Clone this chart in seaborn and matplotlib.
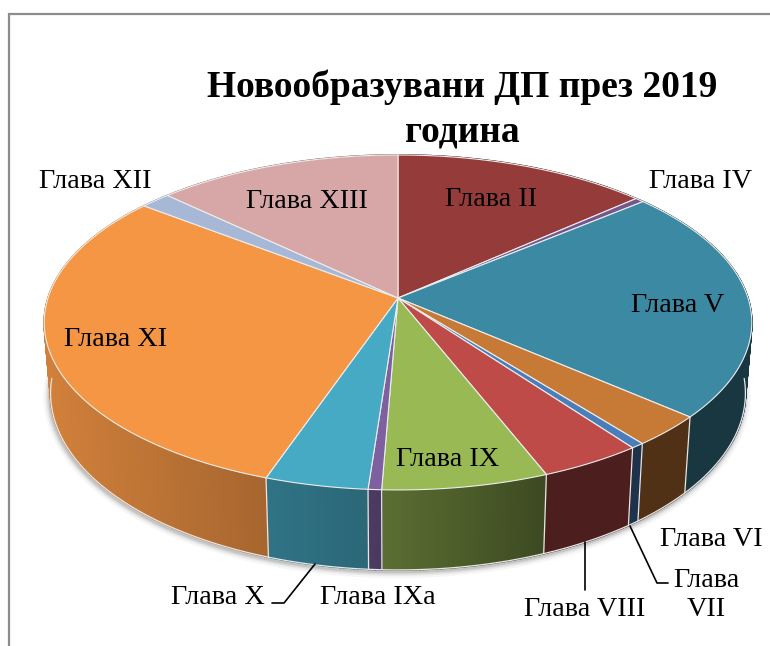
import numpy as np
import matplotlib
matplotlib.use("Agg")
import matplotlib.pyplot as plt
import seaborn as sns

sns.set_theme(style="white")
plt.rcParams['font.family'] = ['Liberation Serif', 'DejaVu Serif']

title = "Новообразувани ДП през 2019\nгодина"
chapters = ["Глава II", "Глава IV", "Глава V", "Глава VI", "Глава VII", "Глава VIII",
            "Глава IX", "Глава IXa", "Глава X", "Глава XI", "Глава XII", "Глава XIII"]
shares = [13.4, 0.47, 22.5, 3.0, 0.53, 4.1, 6.6, 0.53, 4.1, 30.2, 1.6, 12.9]
hexes = ["#953C3A", "#76558F", "#3B89A3", "#C77A36", "#4A7EBB", "#BE4B48",
         "#98B954", "#7D60A0", "#46AAC5", "#F59645", "#A7B7D6", "#D7A7A7"]
palette = sns.color_palette(hexes)

label_pos = {"Глава II": (491, 199), "Глава IV": (701, 182), "Глава V": (678, 305),
             "Глава VI": (711, 539), "Глава VII": (706, 595), "Глава VIII": (585, 609),
             "Глава IX": (448, 460), "Глава IXa": (378, 598), "Глава X": (218, 598),
             "Глава XI": (116, 340), "Глава XII": (95, 182), "Глава XIII": (307, 201)}

CX, CY, K, A, B = 398.0, 298.0, 0.146, 163.9, 350.0


def top_xy(theta):
    u, v = np.sin(theta), np.cos(theta)
    return CX + B * u / (1 + K * v), CY - A * v / (1 + K * v)


def bottom_xy(theta):
    x, y = top_xy(theta)
    return CX + 0.982 * (x - CX), 570 + 1.055 * (y - 490)


def shade(x):
    return np.interp(x, [50, 264, 379, 545, 750], [0.85, 0.68, 0.60, 0.40, 0.40])


fig = plt.figure(figsize=(7.7, 6.46), dpi=100)
ax = fig.add_axes([0, 0, 1, 1])
ax.set_xlim(0, 770)
ax.set_ylim(646, 0)
ax.axis("off")

# frame
ax.plot([9, 9, 770], [646, 14, 14], color="#8C8C8C", lw=1.6, solid_joinstyle="miter", zorder=1)

fracs = np.array(shares) / np.sum(shares)
edges = np.concatenate([[0], np.cumsum(fracs)]) * 2 * np.pi

# shadow along the front of the lower rim only
front = np.linspace(np.pi * 0.52, np.pi * 1.48, 241)
bx, by = bottom_xy(front)
for w, al in [(9, 0.05), (6, 0.07), (4, 0.10), (2, 0.16)]:
    ax.plot(bx - 1, by + 2, color="#555555", lw=w, alpha=al, solid_capstyle="round", zorder=1)

# sides
for i, col in enumerate(palette):
    ts = np.linspace(edges[i], edges[i + 1], max(2, int((edges[i + 1] - edges[i]) * 120)))
    for t0, t1 in zip(ts[:-1], ts[1:]):
        tx, ty = top_xy(np.array([t0, t1]))
        qx, qy = bottom_xy(np.array([t1, t0]))
        fc = tuple(c * shade((tx[0] + tx[1]) / 2) for c in col)
        ax.fill(np.r_[tx, qx], np.r_[ty, qy], facecolor=fc, edgecolor=fc, lw=1.2, zorder=2)

# side outlines
ax.plot(bx, by, color="#E6E6E6", lw=0.9, zorder=3)
for e in edges[:-1]:
    x0, y0 = top_xy(e)
    x1, y1 = bottom_xy(e)
    if y0 > 322:
        ax.plot([x0, x1], [y0, y1], color="#E6E6E6", lw=0.9, zorder=3)

# top faces
for i, col in enumerate(palette):
    ts = np.linspace(edges[i], edges[i + 1], max(3, int((edges[i + 1] - edges[i]) * 120)))
    x, y = top_xy(ts)
    ax.fill(np.r_[CX, x], np.r_[CY, y], facecolor=col, edgecolor="#EDEDED", lw=0.8,
            joinstyle="round", zorder=4)

# leader lines
for xs, ys in [([630, 657, 668], [526, 583, 583]),
               ([585, 585], [542, 590]),
               ([315, 284, 272], [564, 603, 603])]:
    ax.plot(xs, ys, color="black", lw=1.2, zorder=5)

# labels
for name in chapters:
    x, y = label_pos[name]
    txt = "Глава\nVII" if name == "Глава VII" else name
    ax.text(x, y, txt, ha="center", va="center", fontsize=20.3, color="black",
            linespacing=1.2, zorder=6)

ax.text(462, 109.5, title, ha="center", va="center", fontsize=27, fontweight="bold",
        color="black", linespacing=1.34, zorder=6)

fig.savefig("out.png", dpi=100)
